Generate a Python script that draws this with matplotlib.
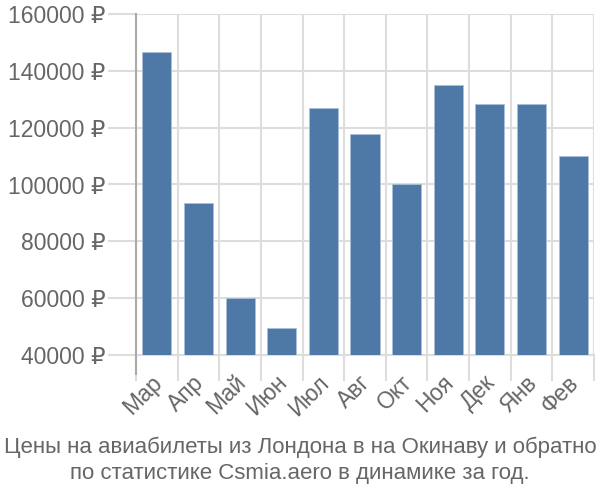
import matplotlib
matplotlib.use("Agg")
import matplotlib.pyplot as plt
from matplotlib.lines import Line2D
import numpy as np

months = ["Мар", "Апр", "Май", "Июн", "Июл", "Авг", "Окт", "Ноя", "Дек", "Янв", "Фев"]
prices = [146500, 93600, 60200, 49600, 126800, 117600, 100200, 135000, 128400, 128200, 110100]
yticks = [40000, 60000, 80000, 100000, 120000, 140000, 160000]
title = "Цены на авиабилеты из Лондона в на Окинаву и обратно\nпо статистике Csmia.aero в динамике за год."

plt.rcParams['font.family'] = ['Liberation Sans', 'DejaVu Sans']
txt = '#666666'
grid = '#dddddd'

fig = plt.figure(figsize=(6, 5), dpi=100)
ax = fig.add_axes([136/600, 1 - 355/500, (594-136)/600, (355-14)/500])

x = np.arange(len(months))
base = yticks[0]
ax.bar(x, [p - base for p in prices], bottom=base, width=0.7, color='#4e79a7',
       edgecolor='#a9c0d8', linewidth=0.6, zorder=3)

ax.set_xlim(-0.5, len(months) - 0.5)
ax.set_ylim(yticks[0], yticks[-1])
ax.set_yticks(yticks)
ax.set_yticklabels([f"{v} ₽" for v in yticks], fontsize=16.5, color=txt)
ax.set_xticks(x)
ax.set_xticklabels(months, rotation=45, ha='right', va='center_baseline', rotation_mode='anchor',
                   fontsize=16.5, color=txt)
ax.set_xticks(np.arange(len(months) + 1) - 0.5, minor=True)

ax.tick_params(axis='x', which='major', length=0, pad=16)
ax.tick_params(axis='x', which='minor', length=19, color=grid, width=1.5)
ax.tick_params(axis='y', which='major', length=20, color=grid, width=1.5, pad=2)

ax.grid(True, axis='y', which='major', color=grid, linewidth=1.5, zorder=0)
ax.grid(True, axis='x', which='minor', color=grid, linewidth=1.5, zorder=0)

for s in ['top', 'right', 'left']:
    ax.spines[s].set_visible(False)
ax.spines['bottom'].set_color(grid)
ax.spines['bottom'].set_linewidth(1.5)
ax.add_line(Line2D([0, 0], [-19/341, 1], transform=ax.transAxes, color='#aaaaaa',
                   linewidth=1.5, clip_on=False, zorder=4))

fig.text(0.5, 1 - 460/500, title, ha='center', va='center', fontsize=16, color=txt, linespacing=1.3)

fig.savefig("out.png", dpi=100)
